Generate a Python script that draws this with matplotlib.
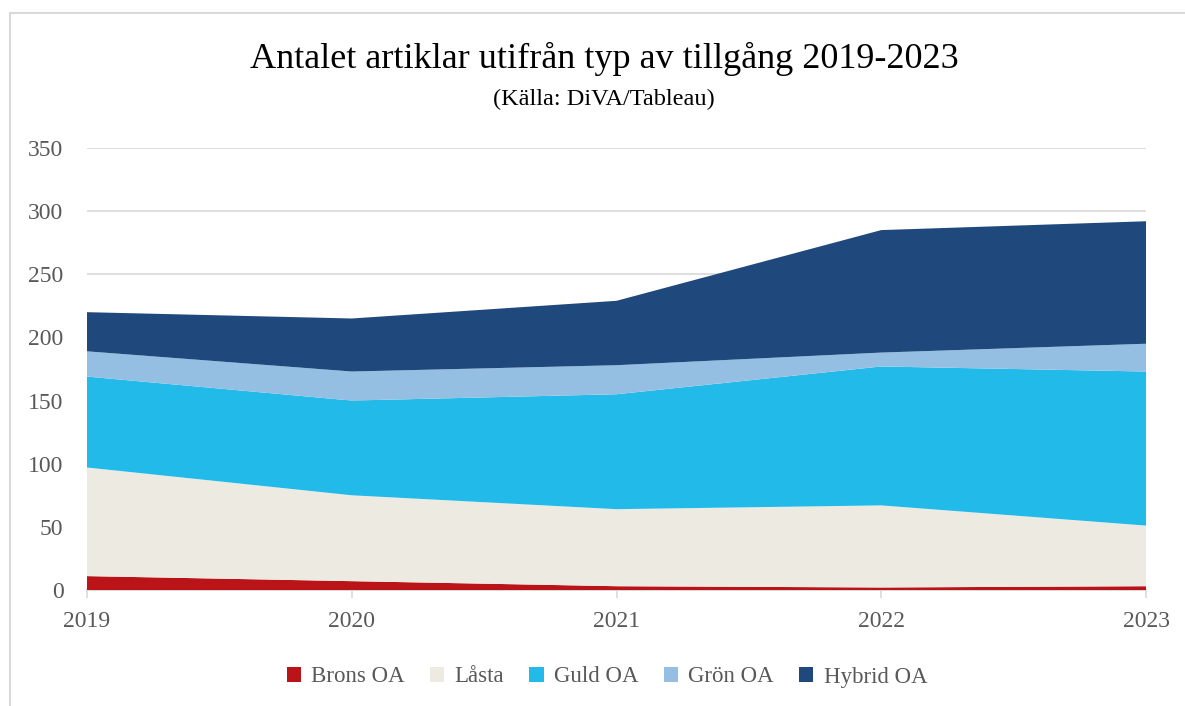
import matplotlib
matplotlib.use("Agg")
import matplotlib.pyplot as plt
from matplotlib.lines import Line2D
from matplotlib.patches import Patch

years = [2019, 2020, 2021, 2022, 2023]
series_names = ["Brons OA", "Låsta", "Guld OA", "Grön OA", "Hybrid OA"]
brons = [11, 7, 3, 2, 3]
lasta = [86, 68, 61, 65, 48]
guld = [72, 75, 91, 110, 122]
gron = [20, 23, 23, 11, 22]
hybrid = [31, 42, 51, 97, 97]
colors = ["#BA1419", "#EDEBE1", "#22BAE9", "#94BFE3", "#1F497D"]
yticks = [0, 50, 100, 150, 200, 250, 300, 350]

plt.rcParams['font.family'] = ['Liberation Serif', 'DejaVu Serif']

fig = plt.figure(figsize=(11.85, 7.06), dpi=100)
ax = fig.add_axes([87/1185, 1-590/706, (1146-87)/1185, (590-148)/706])

ax.stackplot(years, brons, lasta, guld, gron, hybrid, colors=colors,
             labels=series_names, linewidth=0, zorder=2)

ax.set_xlim(years[0], years[-1])
ax.set_ylim(0, 350)
ax.set_yticks(yticks)
ax.set_xticks(years)
ax.grid(axis='y', color='#d9d9d9', linewidth=1.2, zorder=0)
ax.set_axisbelow(True)
for s in ['top', 'right', 'left']:
    ax.spines[s].set_visible(False)
ax.spines['bottom'].set_color('#d9d9d9')
ax.spines['bottom'].set_linewidth(1.5)
ax.spines['bottom'].set_zorder(1)
ax.tick_params(axis='y', length=0, pad=17, labelsize=17, labelcolor='#595959')
ax.tick_params(axis='x', length=6, color='#d9d9d9', width=1.2, pad=9,
               labelsize=17, labelcolor='#595959')

fig.text(604/1185, 1-59/706, "Antalet artiklar utifrån typ av tillgång 2019-2023",
         ha='center', va='center', fontsize=26, color='black')
fig.text(604/1185, 1-99/706, "(Källa: DiVA/Tableau)",
         ha='center', va='center', fontsize=17.5, color='black')

handles = [Patch(facecolor=c, edgecolor='none') for c in colors]
fig.legend(handles, series_names, loc='center', bbox_to_anchor=(607/1185, 1-677/706),
           ncol=5, frameon=False, fontsize=16.5, labelcolor='#595959',
           handlelength=0.62, handleheight=0.62, handletextpad=0.45, columnspacing=1.1)

fig.add_artist(Line2D([10/1185, 1], [1-13/706, 1-13/706], color='#d9d9d9', linewidth=1.5,
                      transform=fig.transFigure))
fig.add_artist(Line2D([10/1185, 10/1185], [0, 1-13/706], color='#d9d9d9', linewidth=1.5,
                      transform=fig.transFigure))

fig.savefig("out.png", dpi=100)
